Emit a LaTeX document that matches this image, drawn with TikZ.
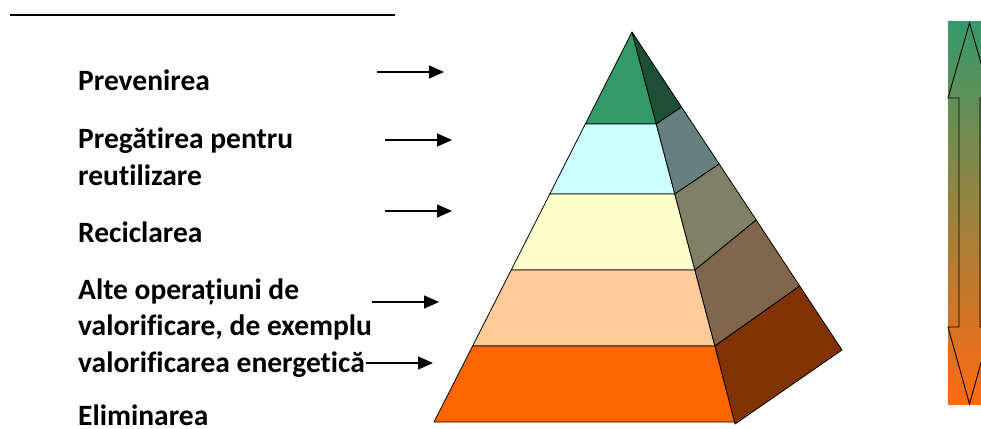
\documentclass[tikz,border=0pt]{standalone}
\usepackage{fontspec}
\setmainfont{Carlito}[Ligatures=NoCommon]
\usetikzlibrary{arrows.meta}

\definecolor{topfront}{HTML}{339966}
\definecolor{topside}{HTML}{1C4F35}
\definecolor{reusefront}{HTML}{CCFFFF}
\definecolor{reuseside}{HTML}{668080}
\definecolor{recfront}{HTML}{FFFFCC}
\definecolor{recside}{HTML}{808066}
\definecolor{recovfront}{HTML}{FFCC99}
\definecolor{recovside}{HTML}{80664D}
\definecolor{dispfront}{HTML}{FF6600}
\definecolor{dispside}{HTML}{803300}
\definecolor{gtop}{HTML}{36996A}
\definecolor{gmid}{HTML}{B07E4C}
\definecolor{gbot}{HTML}{FF6A12}

\begin{document}
\begin{tikzpicture}[x=1pt, y=-1pt,
        lbl/.style = {anchor=base west, inner sep=0pt, font=\fontsize{29.5}{36}\selectfont\bfseries},
        ptr/.style = {line width=1.3pt, -{Triangle[length=15pt, width=13pt]}},
        face/.style = {draw, line width=0.8pt, line join=round}]
        \clip (0, 0) rectangle (981, 428);

        % rule at the top
        \coordinate (r1) at (10, 15);
        \coordinate (r2) at (395, 15);
        \draw[line width=2pt] (r1) -- (r2);

        % labels
        \node[lbl] (l1) at (78, 90) {Prevenirea};
        \node[lbl] (l2a) at (78, 148) {Pregătirea pentru};
        \node[lbl] (l2b) at (78, 185) {reutilizare};
        \node[lbl] (l3) at (78, 242) {Reciclarea};
        \node[lbl] (l4a) at (78, 299) {Alte operațiuni de};
        \node[lbl] (l4b) at (78, 335) {valorificare, de exemplu};
        \node[lbl] (l4c) at (78, 372) {valorificarea energetică};
        \node[lbl] (l5) at (78, 425) {Eliminarea};

        % pointers
        \coordinate (p1) at (377, 72);
        \coordinate (q1) at (444, 72);
        \coordinate (p2) at (385, 140);
        \coordinate (q2) at (452, 140);
        \coordinate (p3) at (385, 211);
        \coordinate (q3) at (452, 211);
        \coordinate (p4) at (372, 302);
        \coordinate (q4) at (439, 302);
        \coordinate (p5) at (366, 363);
        \coordinate (q5) at (433, 363);

        \draw[ptr] (p1) -- (q1);
        \draw[ptr] (p2) -- (q2);
        \draw[ptr] (p3) -- (q3);
        \draw[ptr] (p4) -- (q4);
        \draw[ptr] (p5) -- (q5);

        % pyramid, front faces
        \draw[face, fill=topfront] (632, 32) -- (656.3, 124) -- (585.3, 124) -- cycle;
        \draw[face, fill=reusefront] (585.3, 124) -- (656.3, 124) -- (674.8, 194) -- (549.8, 194) -- cycle;
        \draw[face, fill=recfront] (549.8, 194) -- (674.8, 194) -- (694.9, 270) -- (511.2, 270) -- cycle;
        \draw[face, fill=recovfront] (511.2, 270) -- (694.9, 270) -- (714.9, 346) -- (472.6, 346) -- cycle;
        \draw[face, fill=dispfront] (472.6, 346) -- (714.9, 346) -- (735, 422) -- (434, 422) -- cycle;

        % pyramid, side faces
        \draw[face, fill=topside] (632, 32) -- (681.5, 107) -- (656.3, 124) -- cycle;
        \draw[face, fill=reuseside] (656.3, 124) -- (681.5, 107) -- (719.2, 164) -- (674.8, 194) -- cycle;
        \draw[face, fill=recside] (674.8, 194) -- (719.2, 164) -- (756.2, 220) -- (694.9, 270) -- cycle;
        \draw[face, fill=recovside] (694.9, 270) -- (756.2, 220) -- (799.7, 286) -- (714.9, 346) -- cycle;
        \draw[face, fill=dispside] (714.9, 346) -- (799.7, 286) -- (842, 350) -- (735, 424) -- cycle;

        % scale on the right
        \shade[top color=gtop, middle color=gmid, bottom color=gbot] (948, 22) rectangle (995, 404);
        \draw[line width=0.9pt, line join=miter] (969.5, 23) -- (948, 98) -- (959, 98) -- (959, 327) -- (948, 327)
            -- (969.5, 404) -- (991, 327) -- (980, 327) -- (980, 98) -- (991, 98) -- cycle;
\end{tikzpicture}
\end{document}
